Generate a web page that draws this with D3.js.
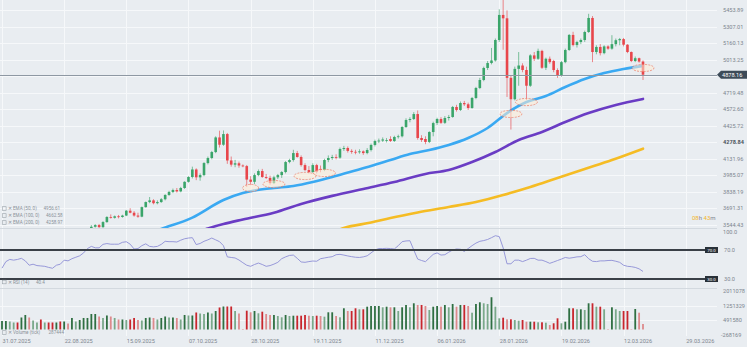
<!DOCTYPE html>
<html lang="en">
<head>
<meta charset="UTF-8">
<title>Gold daily</title>
<script src="https://d3js.org/d3.v7.min.js"></script>
<style>
  body { margin: 0; background: #e9edf1; }
  svg { display: block; font-family: Roboto, "Open Sans", sans-serif; }
</style>
</head>
<body>
<svg id="chart" width="747" height="347"></svg>
<script>
// ---- data ----
const dateLabels = ["31.07.2025", "22.08.2025", "15.09.2025", "07.10.2025", "28.10.2025", "19.11.2025",
  "11.12.2025", "06.01.2026", "28.01.2026", "19.02.2026", "12.03.2026", "29.03.2026"];
const priceTicks = [5453.89, 5307.01, 5160.13, 5013.25, 4866.37, 4719.48, 4572.60, 4425.72, 4278.84,
  4131.96, 3985.07, 3838.19, 3691.31, 3544.43];
const volumeTicks = [2011078, 1251329, 491580, -268169];
const rsiLevels = [70, 30];
const lastPrice = 4878.16;

// daily candles [open, high, low, close]
const candles = [
  [3275,3300,3268,3290],[3290,3363,3281,3360],[3360,3385,3346,3373],[3373,3390,3355,3380],[3380,3398,3365,3370],
  [3370,3400,3365,3396],[3396,3409,3380,3398],[3398,3400,3340,3342],[3342,3358,3332,3348],[3348,3375,3345,3356],
  [3356,3375,3330,3336],[3336,3345,3323,3336],[3336,3358,3323,3332],[3332,3345,3311,3316],[3316,3350,3311,3347],
  [3347,3351,3325,3339],[3339,3378,3321,3372],[3372,3376,3350,3365],[3365,3394,3352,3393],[3393,3400,3375,3397],
  [3397,3423,3382,3416],[3416,3453,3405,3448],[3448,3490,3436,3477],[3477,3540,3475,3525],[3525,3548,3518,3540],
  [3540,3550,3515,3522],[3522,3575,3515,3567],[3567,3620,3560,3612],[3612,3635,3598,3605],[3605,3625,3598,3618],
  [3618,3630,3600,3612],[3612,3632,3606,3625],[3625,3675,3620,3668],[3668,3690,3645,3650],[3650,3665,3615,3625],
  [3625,3650,3605,3615],[3615,3705,3610,3700],[3700,3750,3695,3745],[3745,3790,3735,3760],[3760,3770,3725,3735],
  [3735,3760,3725,3745],[3745,3780,3738,3770],[3770,3815,3760,3808],[3808,3845,3800,3835],[3835,3865,3825,3852],
  [3852,3870,3830,3840],[3840,3880,3832,3870],[3870,3930,3862,3925],[3925,3975,3918,3968],[3968,4060,3955,4035],
  [4035,4045,3940,3965],[3965,4000,3935,3985],[3985,4100,3975,4092],[4092,4150,4080,4137],[4137,4200,4125,4190],
  [4190,4330,4180,4320],[4320,4380,4230,4255],[4255,4382,4245,4350],[4350,4360,4085,4115],[4115,4150,4060,4078],
  [4078,4120,4055,4090],[4090,4105,4050,4070],[4070,4080,4055,4065],[4065,4075,3880,3945],[3945,3975,3895,3925],
  [3925,4000,3905,3985],[3985,4035,3975,4021],[4021,4040,3960,3968],[3968,3995,3950,3960],[3960,3980,3900,3914],
  [3914,3980,3905,3965],[3965,3995,3950,3985],[3985,4020,3960,4012],[4012,4110,4000,4101],[4101,4130,4090,4119],
  [4119,4210,4105,4181],[4181,4200,4140,4146],[4146,4160,4060,4074],[4074,4090,4020,4030],[4030,4065,4000,4012],
  [4012,4090,4005,4074],[4074,4085,4000,4015],[4040,4070,4010,4030],[4030,4130,4020,4119],[4119,4160,4100,4137],
  [4137,4165,4120,4146],[4146,4170,4125,4140],[4140,4230,4130,4217],[4217,4245,4200,4226],[4226,4240,4185,4200],
  [4200,4215,4175,4192],[4192,4210,4170,4188],[4188,4215,4175,4196],[4196,4205,4165,4181],[4181,4225,4170,4208],
  [4208,4265,4195,4253],[4253,4300,4240,4288],[4288,4310,4270,4292],[4292,4320,4280,4302],[4290,4315,4275,4297],
  [4306,4330,4280,4288],[4288,4335,4280,4324],[4324,4345,4310,4330],[4330,4420,4320,4413],[4413,4490,4405,4475],
  [4475,4500,4455,4484],[4484,4545,4475,4528],[4528,4560,4300,4315],[4315,4340,4280,4297],[4306,4330,4260,4280],
  [4280,4375,4270,4368],[4368,4460,4330,4448],[4448,4495,4430,4484],[4484,4500,4440,4450],[4450,4510,4440,4493],
  [4493,4520,4470,4502],[4502,4600,4495,4591],[4591,4610,4550,4564],[4564,4640,4555,4626],[4626,4645,4600,4615],
  [4615,4630,4565,4582],[4582,4680,4575,4671],[4671,4770,4660,4760],[4760,4850,4750,4831],[4831,4950,4820,4938],
  [4938,5000,4920,4982],[4982,5116,4970,5005],[5005,5200,4995,5187],[5187,5460,5170,5410],[5410,5600,5100,5380],
  [5380,5450,4680,4850],[4850,4870,4390,4660],[4660,4950,4650,4930],[4930,5080,4780,4960],[4960,4980,4900,4920],
  [4920,4950,4653,4780],[4780,5060,4770,5050],[5050,5080,5000,5020],[5020,5110,5010,5090],[5090,5100,4930,4940],
  [4940,5030,4920,5020],[5020,5040,4975,4990],[5000,5010,4900,4920],[4920,4935,4850,4870],[4870,5000,4860,4990],
  [4990,5110,4980,5098],[5098,5240,5090,5232],[5232,5260,5130,5142],[5142,5180,5120,5169],[5169,5200,5150,5187],
  [5187,5270,5170,5258],[5258,5420,5250,5383],[5383,5400,4990,5080],[5080,5140,5060,5125],[5125,5150,5050,5070],
  [5070,5140,5060,5130],[5130,5140,5100,5110],[5110,5230,5100,5150],[5150,5200,5130,5185],[5185,5205,5140,5195],
  [5195,5205,5130,5145],[5145,5150,5070,5080],[5080,5085,4990,5000],[5000,5040,4990,5025],[5025,5030,4985,4995],
  [4995,5005,4831,4878.16]
];

// tick volume per candle
const volumes = [
  445000,445000,419000,367000,367000,629000,760000,629000,472000,367000,524000,367000,367000,367000,367000,
  419000,419000,314000,603000,419000,498000,603000,603000,812000,812000,681000,603000,734000,681000,603000,
  524000,524000,498000,524000,603000,498000,472000,603000,629000,603000,524000,603000,681000,629000,629000,
  603000,524000,760000,734000,734000,891000,838000,812000,891000,838000,969000,1153000,1205000,1205000,1205000,
  969000,838000,26000,985000,901000,969000,849000,933000,812000,760000,760000,707000,639000,760000,707000,
  723000,723000,723000,760000,723000,707000,723000,707000,671000,901000,901000,707000,639000,1111000,969000,
  969000,1111000,1058000,1058000,1195000,1231000,1231000,1231000,1163000,1195000,1163000,1163000,969000,1163000,1284000,
  1163000,1373000,1284000,1284000,1231000,1022000,1195000,1231000,1195000,1284000,1163000,1336000,1195000,1284000,1284000,
  1231000,880000,1336000,1425000,1373000,1336000,1690000,1195000,587000,618000,534000,534000,498000,461000,498000,
  409000,409000,409000,377000,377000,356000,236000,325000,587000,325000,409000,1111000,1111000,1058000,1058000,
  1022000,1373000,1373000,1195000,1195000,1058000,20000,1163000,1058000,969000,969000,969000,20000,1074000,880000,
  287444
];

const rsiValues = [
  45,54,57,56,57,58.5,55,49,50.4,48.5,48,47.5,46,44.8,49,50.4,56,55,58,60,62,66,72,75,73,73,77.8,78.9,78,78,
  78,80.6,81.4,78,71.4,72,76,78.5,75,74.3,75,77.8,82,81.5,81.5,81,83.5,85.5,86.5,87,77.5,79,82,84,86.5,84,81.5,76,
  60.5,59.7,59,56.2,52.5,49,47.5,50,52,50,47.5,48.5,50.5,53,58,60.5,62.5,63,58.5,53.5,53,54,54.8,54.5,58,59,60,
  60.8,63.5,64,63,61.8,60.8,60,59.7,60.5,62,66,70,72,72,72.3,72,71.4,76,81.5,82.5,82.8,70,57.5,55.5,53.9,59,64,
  66,63,63.5,67,70,71.4,71,68,72,76,79.5,82,83,84.5,87,89.7,88.5,73,51,51,56,56,54,56,58.3,58.5,56,56,54,51.6,
  53.5,55.5,57.5,59.7,58.7,59.5,60.5,60.8,63.5,58,54.5,54,55,55,55.5,55.7,54.5,53,49,47.5,47,46,44,40.4
];

// moving averages, [candle index, value]
const ema50 = [[33,3408],[41,3506],[49,3607],[57,3763],[62,3825],[65,3848],[70,3870],[75,3888],[80,3923],
  [85,3968],[90,4017],[95,4066],[100,4119],[105,4172],[110,4208],[115,4253],[120,4315],[125,4404],[130,4537],
  [135,4635],[140,4689],[145,4769],[150,4840],[155,4893],[160,4929],[165,4956.61]];
const ema100 = [[45,3408],[53,3510],[57,3550],[62,3590],[70,3650],[77,3728],[85,3800],[93,3862],[101,3923],
  [109,3995],[115,4030],[121,4101],[127,4190],[133,4297],[139,4368],[145,4457],[151,4537],[158,4609],[165,4662.58]];
const ema200 = [[83,3443],[88,3514],[95,3563],[100,3603],[107,3652],[115,3701],[122,3746],[129,3808],
  [136,3879],[143,3959],[150,4039],[157,4119],[165,4220]];

// dashed "touch" markers [candle index, price]
const touchMarks = [[64,3870],[70,3905],[78,3977],[83,4004],[131,4529],[135,4635],[165,4938]];

const emaLegend = [["EMA (50, 0)", "4956.61", "#3aa9f2"], ["EMA (100, 0)", "4662.58", "#6a3cc4"],
  ["EMA (200, 0)", "4258.97", "#f5bc24"]];

// ---- drawing ----
const plotRight = 717;
const svg = d3.select("#chart");
const x = d3.scaleLinear().domain([0, 165]).range([2, 643]);
const yPrice = d3.scaleLinear().domain([3544.43, 5453.89]).range([224.6, 10]);
const yRsi = d3.scaleLinear().domain([30, 70]).range([279, 250]);
const yVol = d3.scaleLinear().domain([0, 2011078]).range([329.5, 291.1]);

const upColor = "#3aa56a", downColor = "#e8464b";
const axisColor = "#7d868f", grid = "#f6f8fa";

svg.append("rect").attr("width", 747).attr("height", 347).attr("fill", "#e9edf1");

const defs = svg.append("defs");
defs.append("clipPath").attr("id", "clipMain").append("rect").attr("x", 0).attr("y", 0).attr("width", plotRight).attr("height", 228);
defs.append("clipPath").attr("id", "clipRsi").append("rect").attr("x", 0).attr("y", 228).attr("width", plotRight).attr("height", 60);
defs.append("clipPath").attr("id", "clipVol").append("rect").attr("x", 0).attr("y", 288).attr("width", plotRight).attr("height", 48);

// grid
const gridG = svg.append("g");
gridG.selectAll(".vg").data(dateLabels).enter().append("line")
  .attr("x1", (d, i) => Math.round(x(i * 16)) + 0.5).attr("x2", (d, i) => Math.round(x(i * 16)) + 0.5)
  .attr("y1", 0).attr("y2", 336).attr("stroke", grid);
gridG.selectAll(".hg").data(priceTicks).enter().append("line")
  .attr("x1", 0).attr("x2", plotRight)
  .attr("y1", d => Math.round(yPrice(d)) + 0.5).attr("y2", d => Math.round(yPrice(d)) + 0.5)
  .attr("stroke", grid);
gridG.selectAll(".vgl").data(volumeTicks.slice(1, 3)).enter().append("line")
  .attr("x1", 0).attr("x2", plotRight)
  .attr("y1", d => Math.round(yVol(d)) + 0.5).attr("y2", d => Math.round(yVol(d)) + 0.5)
  .attr("stroke", grid);

// panel separators
svg.selectAll(".sep").data([228, 288]).enter().append("line")
  .attr("x1", 0).attr("x2", plotRight).attr("y1", d => d + 0.5).attr("y2", d => d + 0.5)
  .attr("stroke", "#d3d9df");

// main panel
const main = svg.append("g").attr("clip-path", "url(#clipMain)");

const emaLine = d3.line().x(d => x(d[0])).y(d => yPrice(d[1])).curve(d3.curveMonotoneX);
[[ema200, "#f5bc24"], [ema100, "#6a3cc4"], [ema50, "#3aa9f2"]].forEach(([pts, col]) => {
  main.append("path").datum(pts).attr("d", emaLine)
    .attr("fill", "none").attr("stroke", col).attr("stroke-width", 2.6).attr("stroke-linecap", "round");
});

const candleG = main.selectAll(".candle").data(candles).enter().append("g");
candleG.append("line")
  .attr("x1", (d, i) => x(i)).attr("x2", (d, i) => x(i))
  .attr("y1", d => yPrice(d[1])).attr("y2", d => yPrice(d[2]))
  .attr("stroke", d => d[3] >= d[0] ? upColor : downColor).attr("stroke-width", 0.8).attr("opacity", 0.8);
candleG.append("rect")
  .attr("x", (d, i) => x(i) - 1.3).attr("width", 2.6)
  .attr("y", d => yPrice(Math.max(d[0], d[3])))
  .attr("height", d => Math.max(0.8, Math.abs(yPrice(d[0]) - yPrice(d[3]))))
  .attr("fill", d => d[3] >= d[0] ? upColor : downColor);

main.selectAll(".touch").data(touchMarks).enter().append("ellipse")
  .attr("cx", d => x(d[0])).attr("cy", d => yPrice(d[1]))
  .attr("rx", (d, i) => i === 0 ? 8 : 11).attr("ry", 3.6)
  .attr("fill", "rgba(255,236,214,0.55)").attr("stroke", "#ec7a63")
  .attr("stroke-width", 0.7).attr("stroke-dasharray", "2,1.2");

// last price line and tag
main.append("line").attr("x1", 0).attr("x2", plotRight)
  .attr("y1", Math.round(yPrice(lastPrice)) + 0.5).attr("y2", Math.round(yPrice(lastPrice)) + 0.5)
  .attr("stroke", "#8e98a3").attr("stroke-width", 1);

// rsi panel
const rsiG = svg.append("g").attr("clip-path", "url(#clipRsi)");
rsiG.append("path").datum(rsiValues)
  .attr("d", d3.line().x((d, i) => x(i)).y(d => yRsi(d)))
  .attr("fill", "none").attr("stroke", "#8d8fd6").attr("stroke-width", 0.9);
svg.selectAll(".lvl").data(rsiLevels).enter().append("line")
  .attr("x1", 0).attr("x2", 705).attr("y1", d => yRsi(d)).attr("y2", d => yRsi(d))
  .attr("stroke", "#3a4047").attr("stroke-width", 2);
svg.selectAll(".lvlTag").data(rsiLevels).enter().append("rect")
  .attr("x", 705).attr("y", d => yRsi(d) - 3).attr("width", 13).attr("height", 6).attr("fill", "#283038");
svg.selectAll(".lvlTagText").data(rsiLevels).enter().append("text")
  .attr("x", 711.5).attr("y", d => yRsi(d) + 1.6).attr("text-anchor", "middle")
  .attr("font-size", 4.4).attr("fill", "#ffffff").text(d => d.toFixed(1));

// volume panel
const volG = svg.append("g").attr("clip-path", "url(#clipVol)");
volG.selectAll(".vol").data(volumes).enter().append("rect")
  .attr("x", (d, i) => x(i) - 0.9).attr("width", 1.8)
  .attr("y", d => yVol(d)).attr("height", d => Math.max(0.4, yVol(0) - yVol(d)))
  .attr("fill", (d, i) => {
    const up = candles[i][3] >= candles[i][0];
    const rising = i === 0 || d >= volumes[i - 1];
    if (up) return rising ? "#2f6f42" : "#7aa98a";
    return rising ? "#c8262d" : "#dd8a8c";
  });

// axis labels
const axis = svg.append("g").attr("font-size", 5.6).attr("fill", axisColor);
axis.selectAll(".pl").data(priceTicks.filter(d => Math.abs(yPrice(d) - yPrice(lastPrice)) > 6)).enter().append("text")
  .attr("x", 723).attr("y", d => yPrice(d) + 2).text(d => d.toFixed(2))
  .attr("fill", d => d === 4278.84 ? "#4a525a" : axisColor)
  .attr("font-weight", d => d === 4278.84 ? "bold" : null);
axis.append("text").attr("x", 723).attr("y", 234).text("100.0");
axis.selectAll(".rl").data(rsiLevels).enter().append("text")
  .attr("x", 724).attr("y", d => yRsi(d) + 2).text(d => d.toFixed(1));
axis.selectAll(".vl").data(volumeTicks).enter().append("text")
  .attr("x", d => d < 0 ? 721 : 723).attr("y", d => yVol(d) + 2).text(d => d);
axis.selectAll(".dl").data(dateLabels).enter().append("text")
  .attr("x", (d, i) => x(i * 16) + 0.5).attr("y", 343).text(d => d);

// last price tag
const ty = yPrice(lastPrice);
svg.append("path")
  .attr("d", `M${plotRight},${ty} L${plotRight + 4},${ty - 4} L747,${ty - 4} L747,${ty + 4} L${plotRight + 4},${ty + 4} Z`)
  .attr("fill", "#3d4b58");
svg.append("text").attr("x", 722).attr("y", ty + 2).attr("font-size", 5.6).attr("fill", "#ffffff").text(lastPrice.toFixed(2));

// countdown
const cd = svg.append("text").attr("x", 692).attr("y", 220).attr("font-size", 6);
cd.append("tspan").attr("fill", "#f2b62b").text("08");
cd.append("tspan").attr("fill", axisColor).text("h ");
cd.append("tspan").attr("fill", "#f2b62b").text("43");
cd.append("tspan").attr("fill", axisColor).text("m");

// legends
function legendRow(yy, label, value) {
  const g = svg.append("g").attr("font-size", 4.6).attr("fill", "#8a9299");
  g.append("rect").attr("x", 2.5).attr("y", yy - 3.3).attr("width", 3.6).attr("height", 3.6)
    .attr("fill", "none").attr("stroke", "#9aa2a9").attr("stroke-width", 0.6);
  g.append("text").attr("x", 7.5).attr("y", yy).text("✕");
  g.append("text").attr("x", 13).attr("y", yy).text(label);
  g.append("text").attr("x", 13 + label.length * 2.5 + 3).attr("y", yy).text(value);
}
emaLegend.forEach((d, i) => legendRow(210 + i * 7, d[0], d[1]));
legendRow(283.5, "RSI (14)", rsiValues[rsiValues.length - 1].toFixed(1));
legendRow(334, "Volume (tick)", String(volumes[volumes.length - 1]));
</script>
</body>
</html>
